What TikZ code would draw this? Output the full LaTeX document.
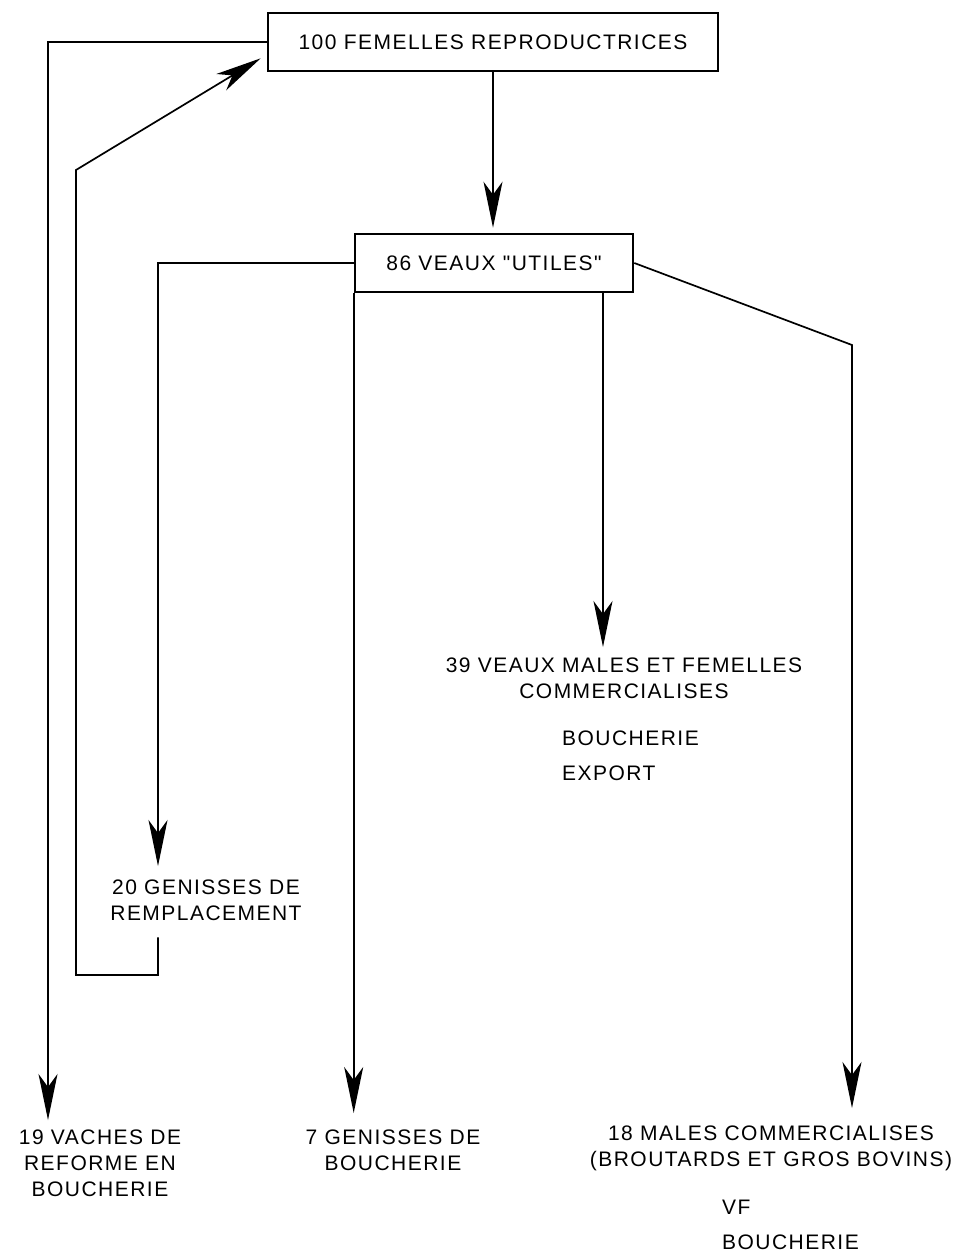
\documentclass[tikz,border=0pt]{standalone}
\usepackage{fontspec}
\newfontfamily\lblfamily{Liberation Sans}[LetterSpace=7]
\usetikzlibrary{arrows.meta,calc}
\newcommand\lblfont{\lblfamily\fontsize{21}{26}\selectfont}
\begin{document}
\begin{tikzpicture}[x=1pt,y=-1pt,
  box/.style={draw,line width=2.6pt,minimum width=#1,minimum height=58pt,inner sep=0pt,font=\lblfont},
  lbl/.style={align=center,inner sep=0pt,font=\lblfont},
  lbll/.style={align=left,inner sep=0pt,font=\lblfont},
  conn/.style={line width=1.7pt},
  arr/.style={conn,-{Stealth[length=46pt,width=19pt,inset=13pt]}}]
\useasboundingbox (0,0) rectangle (959,1254);
% columns
\coordinate (xa) at (48,0);
\coordinate (xc) at (158,0);
\coordinate (xd) at (603,0);
\coordinate (xe) at (852,0);
\coordinate (bend) at (852,345);
\coordinate (loopa) at (158,975);
\coordinate (loopb) at (76,975);
\coordinate (loopc) at (76,170);
% nodes
\node[box=450pt] (fem) at (493,42) {100 FEMELLES REPRODUCTRICES};
\node[box=278pt] (veaux) at (494,263) {86 VEAUX "UTILES"};
\node[lbl,anchor=north] (g20) at (206,880) {20 GENISSES DE\\REMPLACEMENT};
\node[lbl,anchor=north] (v39) at (624,658) {39 VEAUX MALES ET FEMELLES\\COMMERCIALISES};
\node[lbll,anchor=north west] (bexp) at (562,731) {BOUCHERIE\\[9pt]EXPORT};
\node[lbl,anchor=north] (v19) at (100,1130) {19 VACHES DE\\REFORME EN\\BOUCHERIE};
\node[lbl,anchor=north] (g7) at (393,1130) {7 GENISSES DE\\BOUCHERIE};
\node[lbl,anchor=north] (m18) at (771,1126) {18 MALES COMMERCIALISES\\(BROUTARDS ET GROS BOVINS)};
\node[lbll,anchor=north west] (vf) at (722,1200) {VF\\[9pt]BOUCHERIE};
% connectors
\draw[arr,shorten >=5pt] (fem.south) -- (fem.south |- veaux.north);
\draw[arr,shorten >=10pt] (fem.west) -| (xa |- v19.north);
\draw[arr,shorten >=14pt] (veaux.west) -| (xc |- g20.north);
\draw[arr,shorten >=17pt] (veaux.south west) -- (veaux.south west |- g7.north);
\draw[arr,shorten >=11pt] (veaux.south -| xd) -- (xd |- v39.north);
\draw[arr,shorten >=18pt] (veaux.east) -- (bend) -- (xe |- m18.north);
\draw[arr,shorten <=16pt] (xc |- g20.south) -- (loopa) -- (loopb) -- (loopc) -- ($(fem.south west)+(-6,-14)$);
\end{tikzpicture}
\end{document}
